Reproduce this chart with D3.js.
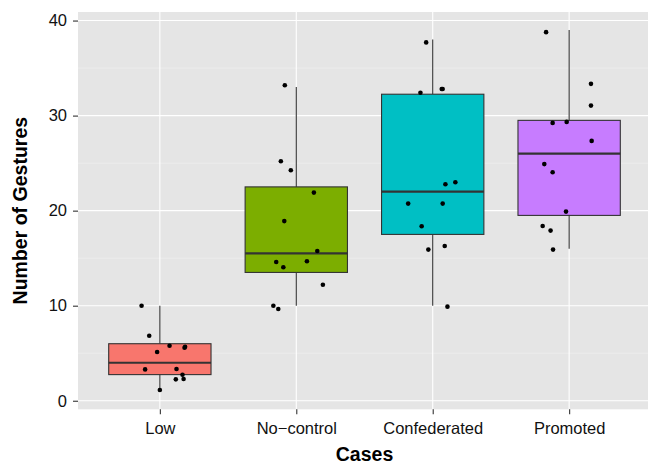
<!DOCTYPE html>
<html>
<head>
<meta charset="utf-8">
<script src="https://cdn.jsdelivr.net/npm/d3@7"></script>
<style>
  body { margin: 0; background: #fff; }
  text { font-family: "Liberation Sans", Arial, sans-serif; }
</style>
</head>
<body>
<div id="chart"></div>
<script>
// categories and summary stats [lower whisker, q1, median, q3, upper whisker]
const cases = ['Low', 'No\u2212control', 'Confederated', 'Promoted'];
const fills = ['#F8766D', '#7CAE00', '#00BFC4', '#C77CFF'];
const boxStats = [
  [1.1, 2.75, 4.0, 6.0, 10.0],
  [10.0, 13.5, 15.5, 22.5, 33.0],
  [10.0, 17.5, 22.0, 32.25, 38.0],
  [16.0, 19.5, 26.0, 29.5, 39.0]
];

// observed gestures per case
const lowVals = [10.0, 6.84, 5.79, 5.68, 5.58, 5.13, 3.3, 3.34, 2.74, 2.25, 2.28, 1.13];
const noControlVals = [33.2, 25.2, 24.25, 21.9, 18.9, 15.76, 14.6, 14.67, 14.04, 12.2, 10.0, 9.65];
const confedVals = [37.7, 32.4, 32.8, 32.8, 22.78, 22.99, 20.74, 20.74, 18.36, 16.28, 15.9, 9.9];
const promotedVals = [38.78, 33.34, 31.05, 29.23, 29.34, 27.34, 24.9, 24.04, 19.9, 18.39, 17.9, 15.9];

// horizontal jitter, in category units
const lowJit = [-0.134, -0.078, 0.071, 0.185, 0.181, -0.02, -0.108, 0.122, 0.166, 0.117, 0.174, 0.0];
const noControlJit = [-0.084, -0.113, -0.04, 0.129, -0.088, 0.154, -0.147, 0.078, -0.095, 0.195, -0.168, -0.132];
const confedJit = [-0.048, -0.09, 0.066, 0.073, 0.093, 0.166, -0.18, 0.073, -0.081, 0.088, -0.032, 0.108];
const promotedJit = [-0.169, 0.16, 0.16, -0.121, -0.018, 0.165, -0.182, -0.121, -0.023, -0.194, -0.136, -0.118];

const yTicks = [0, 10, 20, 30, 40];
const yMinor = [5, 15, 25, 35];

const values = [lowVals, noControlVals, confedVals, promotedVals];
const jitter = [lowJit, noControlJit, confedJit, promotedJit];

const W = 648, H = 464;
const panel = {left: 78, top: 12, right: 651, bottom: 409.3};

const svg = d3.select('#chart').append('svg')
  .attr('width', W)
  .attr('height', H);

const x = d3.scalePoint()
  .domain(cases)
  .range([panel.left, panel.right])
  .padding(0.6);
const step = x.step();

const y = d3.scaleLinear()
  .domain([-0.9, 40.9])
  .range([panel.bottom, panel.top]);

// panel background + grid
svg.append('rect')
  .attr('x', panel.left).attr('y', panel.top)
  .attr('width', panel.right - panel.left)
  .attr('height', panel.bottom - panel.top)
  .attr('fill', '#E5E5E5');

svg.append('g').selectAll('line').data(yMinor).join('line')
  .attr('x1', panel.left).attr('x2', panel.right)
  .attr('y1', d => y(d)).attr('y2', d => y(d))
  .attr('stroke', '#F2F2F2').attr('stroke-width', 0.55);

svg.append('g').selectAll('line').data(yTicks).join('line')
  .attr('x1', panel.left).attr('x2', panel.right)
  .attr('y1', d => y(d)).attr('y2', d => y(d))
  .attr('stroke', '#fff').attr('stroke-width', 1.1);

svg.append('g').selectAll('line').data(cases).join('line')
  .attr('x1', d => x(d)).attr('x2', d => x(d))
  .attr('y1', panel.top).attr('y2', panel.bottom)
  .attr('stroke', '#fff').attr('stroke-width', 1.1);

// boxes
const bw = step * 0.75;
const boxes = svg.append('g').selectAll('g').data(cases).join('g');

boxes.append('line')
  .attr('x1', d => x(d)).attr('x2', d => x(d))
  .attr('y1', (d, i) => y(boxStats[i][3])).attr('y2', (d, i) => y(boxStats[i][4]))
  .attr('stroke', '#333').attr('stroke-width', 1.1);
boxes.append('line')
  .attr('x1', d => x(d)).attr('x2', d => x(d))
  .attr('y1', (d, i) => y(boxStats[i][1])).attr('y2', (d, i) => y(boxStats[i][0]))
  .attr('stroke', '#333').attr('stroke-width', 1.1);
boxes.append('rect')
  .attr('x', d => x(d) - bw / 2)
  .attr('width', bw)
  .attr('y', (d, i) => y(boxStats[i][3]))
  .attr('height', (d, i) => y(boxStats[i][1]) - y(boxStats[i][3]))
  .attr('fill', (d, i) => fills[i])
  .attr('stroke', '#333').attr('stroke-width', 1.1);
boxes.append('line')
  .attr('x1', d => x(d) - bw / 2).attr('x2', d => x(d) + bw / 2)
  .attr('y1', (d, i) => y(boxStats[i][2])).attr('y2', (d, i) => y(boxStats[i][2]))
  .attr('stroke', '#333').attr('stroke-width', 2.2);

// jittered points
const pts = [];
cases.forEach((c, i) => {
  values[i].forEach((v, j) => pts.push({c: c, v: v, dx: jitter[i][j]}));
});
svg.append('g').selectAll('circle').data(pts).join('circle')
  .attr('cx', d => x(d.c) + d.dx * step)
  .attr('cy', d => y(d.v))
  .attr('r', 2.3)
  .attr('fill', '#000');

// axes
const yAxis = d3.axisLeft(y).tickValues(yTicks).tickSize(5).tickPadding(6);
const gy = svg.append('g')
  .attr('transform', `translate(${panel.left},0)`)
  .call(yAxis);
const xAxis = d3.axisBottom(x).tickSize(5).tickPadding(8);
const gx = svg.append('g')
  .attr('transform', `translate(0,${panel.bottom})`)
  .call(xAxis);

[gx, gy].forEach(g => {
  g.select('.domain').remove();
  g.selectAll('.tick line').attr('stroke', '#333').attr('stroke-width', 1.1);
  g.selectAll('.tick text')
    .attr('fill', '#111')
    .style('font-size', '16.5px')
    .style('font-family', '"Liberation Sans", Arial, sans-serif');
});

// titles
svg.append('text')
  .attr('x', (panel.left + panel.right) / 2)
  .attr('y', 461)
  .attr('text-anchor', 'middle')
  .style('font-size', '19.5px')
  .style('font-weight', 'bold')
  .text('Cases');

svg.append('text')
  .attr('transform', `translate(27,${(panel.top + panel.bottom) / 2}) rotate(-90)`)
  .attr('text-anchor', 'middle')
  .style('font-size', '19.5px')
  .style('font-weight', 'bold')
  .text('Number of Gestures');
</script>
</body>
</html>
